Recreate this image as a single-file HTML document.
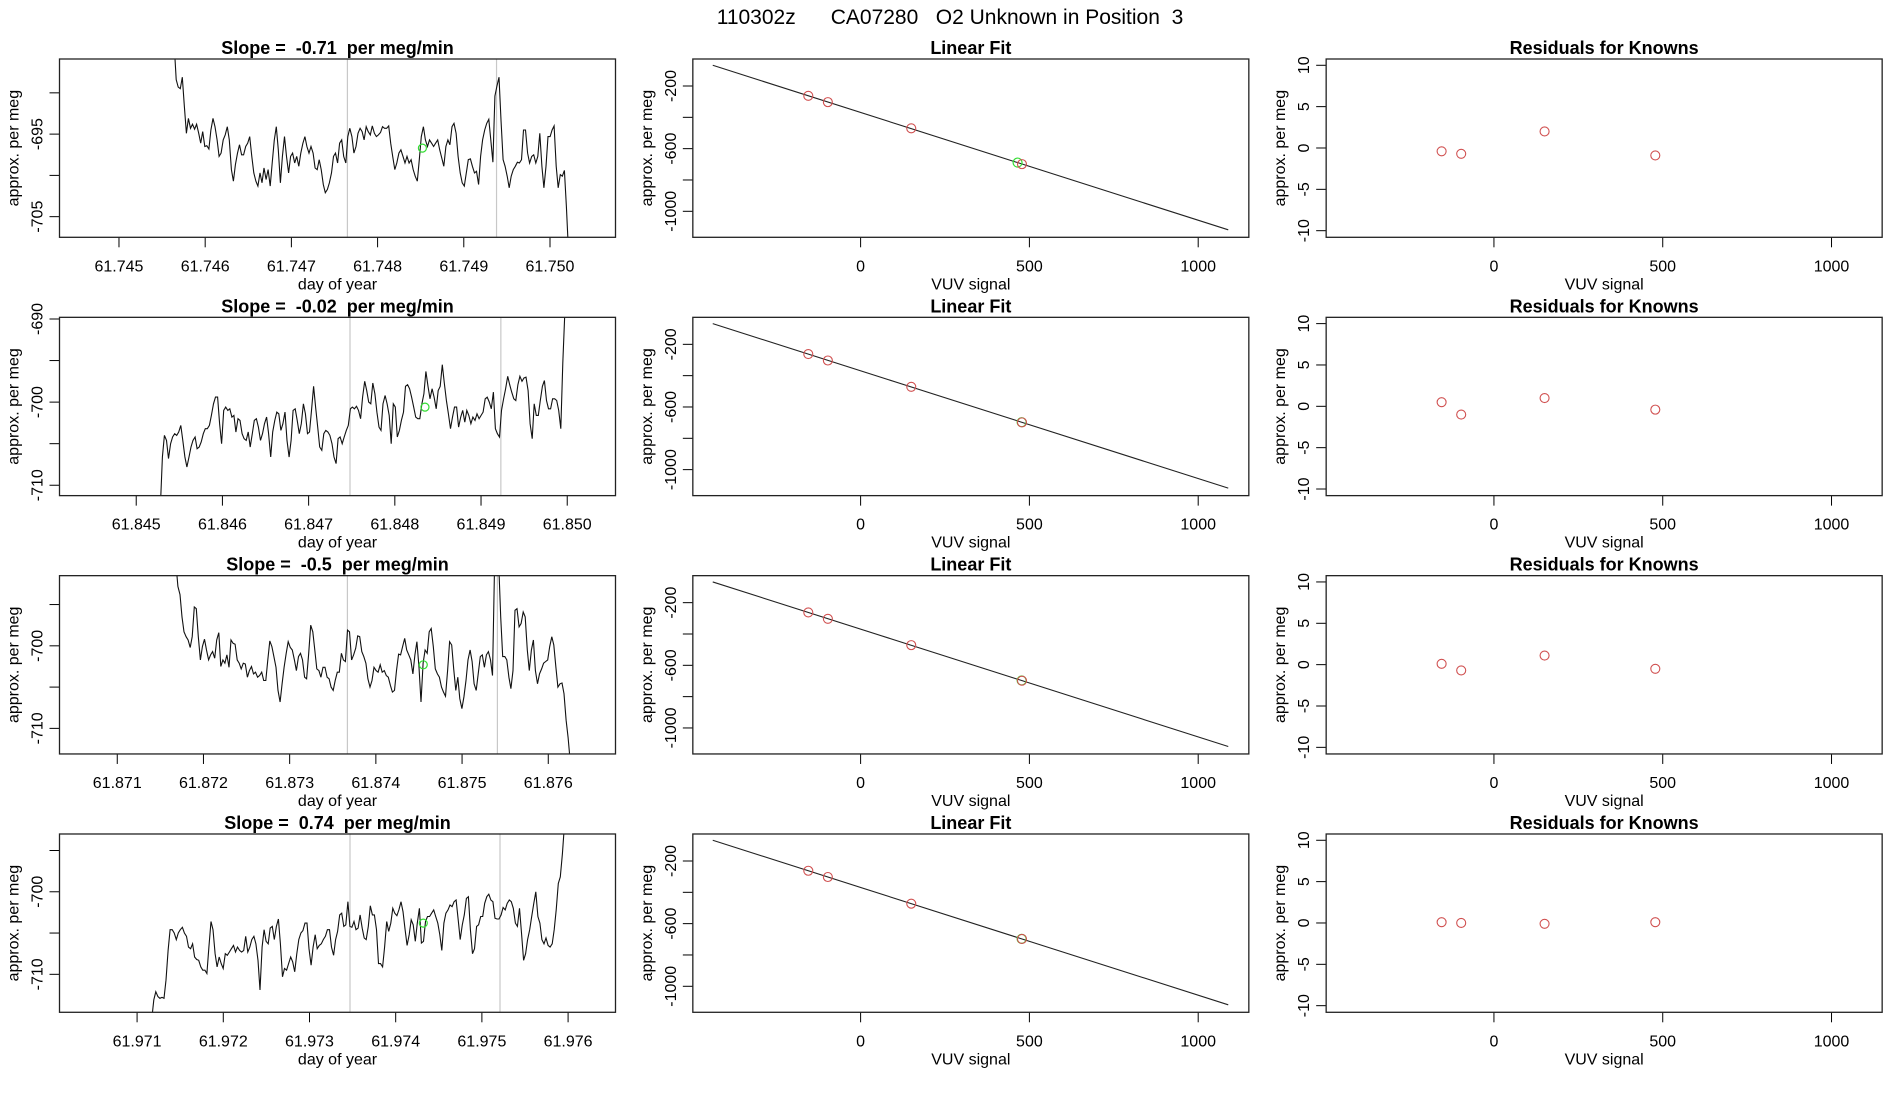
<!DOCTYPE html>
<html><head><meta charset="utf-8"><style>
html,body{margin:0;padding:0;background:#fff;}
svg{display:block;font-family:"Liberation Sans",Arial,sans-serif;}
svg text{white-space:pre;}
</style></head><body>
<svg id="chart" width="1900" height="1100" viewBox="0 0 1900 1100" xmlns="http://www.w3.org/2000/svg">
<rect width="1900" height="1100" fill="#fff"/>
<text x="950" y="24" font-size="21" text-anchor="middle" style="white-space:pre">110302z      CA07280   O2 Unknown in Position  3</text>
</svg>
<script>
const slopeTitles = ["Slope =  -0.71  per meg/min","Slope =  -0.02  per meg/min","Slope =  -0.5  per meg/min","Slope =  0.74  per meg/min"];
const tsStart = [61.74564, 61.84528, 61.87168, 61.97117];
const tsStep = 0.0000237;
const tsX0 = [61.74431, 61.84411, 61.87033, 61.97010];
const tsX1 = [61.75076, 61.85056, 61.87678, 61.97655];
const tsY0 = [-707.5, -711.25, -713.1, -714.6];
const tsY1 = [-685.9, -689.8, -691.5, -693.0];
const tsXTicks = [
 [61.745,61.746,61.747,61.748,61.749,61.750],
 [61.845,61.846,61.847,61.848,61.849,61.850],
 [61.871,61.872,61.873,61.874,61.875,61.876],
 [61.971,61.972,61.973,61.974,61.975,61.976]];
const tsYTicks = [[-690,-695,-700,-705],[-690,-695,-700,-705,-710],[-695,-700,-705,-710],[-695,-700,-705,-710]];
const tsYLabels = [["","-695","","-705"],["-690","","-700","","-710"],["","-700","","-710"],["","-700","","-710"]];
const grayLines = [[61.74765,61.74938],[61.84748,61.84923],[61.87367,61.87541],[61.97347,61.97521]];
const greenT = [61.74852, 61.84835, 61.87455, 61.97432];
const greenV = [-696.7, -700.6, -702.3, -703.8];
const series1 = [-684,-688.4,-689.3,-689.5,-688.1,-691.7,-694.9,-693.1,-694.3,-693.8,-694.4,-693.8,-694.9,-696.1,-694.7,-696.5,-696.4,-696.8,-694.5,-693.1,-694.1,-695.7,-697.7,-697.3,-695.7,-695.1,-694.1,-695.7,-699.3,-700.7,-698.7,-697.3,-696.3,-697.5,-697.5,-696.5,-696.1,-695.3,-697.7,-699.7,-700.7,-701.3,-699.7,-700.9,-699.1,-700.5,-699.3,-701.3,-698.5,-695.7,-694.1,-696.9,-700.9,-697.7,-695.3,-697.7,-699.7,-697.7,-697.3,-698.5,-697.7,-698.9,-697.3,-696.1,-695.3,-696.5,-697.3,-696.5,-697.3,-699.1,-699.3,-698.1,-699.3,-701.1,-702.1,-701.7,-700.9,-699.7,-697.7,-697.3,-698.5,-696.1,-695.7,-697.7,-698.5,-695.3,-694.3,-695.3,-697.3,-696.5,-694.9,-694.3,-694.7,-695.7,-694.1,-694.7,-695.1,-694.0,-694.9,-695.3,-695.1,-694.8,-694.1,-694.3,-694.3,-694.0,-696.1,-697.7,-699.3,-698.5,-697.3,-696.9,-697.7,-698.5,-697.7,-698.5,-698.1,-699.3,-700.1,-700.7,-698.1,-695.3,-694.1,-695.7,-696.5,-695.7,-696.1,-696.5,-696.1,-695.7,-696.9,-697.9,-698.9,-696.5,-695.7,-696.3,-694.1,-693.7,-694.9,-697.7,-699.7,-700.9,-701.3,-699.7,-698.1,-698.0,-698.9,-699.7,-699.5,-701.1,-697.7,-695.7,-694.5,-693.7,-693.2,-695.7,-698.4,-690.4,-689.2,-688.1,-693.3,-698.1,-698.9,-700.1,-701.5,-700.1,-699.3,-698.9,-698.4,-698.5,-698.1,-694.5,-694.5,-697.3,-698.5,-697.7,-697.5,-698.5,-697.7,-694.9,-698.9,-701.5,-698.9,-695.3,-695.3,-694.5,-694.0,-698.9,-701.5,-699.9,-700.1,-699.4,-703.8,-709];
const series2 = [-712.5,-706.6,-704.0,-704.6,-706.8,-705.0,-704.2,-703.8,-704.0,-703.6,-702.8,-704.6,-706.6,-707.8,-706.6,-705.4,-704.6,-704.2,-705.6,-705.4,-704.8,-703.8,-703.2,-703.2,-702.8,-701.6,-700.2,-699.4,-699.4,-702.6,-705.0,-701.0,-700.6,-701.0,-700.8,-701.8,-701.6,-703.6,-702.0,-702.2,-703.8,-704.4,-704.6,-703.6,-705.4,-703.8,-702.2,-702.0,-703.0,-704.6,-703.8,-702.6,-701.8,-703.8,-706.6,-703.6,-702.2,-701.2,-701.4,-703.4,-702.6,-701.2,-704.6,-706.6,-704.6,-701.0,-700.8,-702.2,-703.8,-702.6,-700.2,-701.4,-703.8,-703.6,-701.0,-698.1,-700.6,-703.0,-705.4,-705.8,-703.8,-703.4,-703.6,-704.0,-705.0,-706.6,-707.4,-704.4,-704.2,-705.0,-704.2,-703.4,-702.8,-700.8,-700.6,-700.8,-700.5,-701.0,-702.0,-699.4,-697.5,-698.6,-700.0,-700.2,-697.7,-699.0,-701.2,-703.0,-703.4,-700.2,-699.2,-700.2,-701.6,-705.0,-700.2,-700.6,-704.2,-703.4,-702.2,-701.2,-698.1,-697.9,-698.4,-699.4,-700.6,-701.8,-702.0,-702.0,-700.2,-699.0,-696.3,-698.1,-699.6,-698.4,-699.4,-700.8,-698.6,-698.1,-695.5,-697.7,-699.8,-701.4,-703.2,-701.8,-700.6,-700.6,-703.0,-701.8,-701.0,-702.4,-701.0,-701.6,-702.6,-701.8,-702.2,-701.4,-702.0,-701.6,-701.2,-699.6,-699.4,-700.0,-700.8,-698.8,-703.2,-703.8,-704.2,-701.0,-699.6,-698.4,-696.9,-697.9,-698.8,-699.6,-699.8,-697.9,-696.9,-697.5,-697.1,-697.0,-698.6,-702.6,-704.4,-700.2,-701.6,-701.6,-699.8,-698.1,-697.4,-699.8,-700.8,-700.8,-699.6,-699.6,-699.8,-701.0,-703.2,-695.3,-689];
const series3 = [-690,-692.8,-693.8,-696.5,-698.3,-698.9,-699.3,-700.2,-698.9,-695.3,-695.5,-698.9,-701.7,-700.1,-699.2,-700.5,-701.7,-701.1,-700.7,-701.5,-699.3,-698.4,-702.5,-701.7,-702.1,-701.1,-702.6,-699.3,-699.7,-699.8,-701.7,-702.1,-702.8,-702.1,-702.2,-703.8,-703.0,-702.5,-703.4,-703.2,-703.8,-703.6,-703.2,-704.2,-704.2,-701.7,-699.4,-700.1,-701.3,-702.6,-705.4,-706.8,-704.6,-702.6,-700.9,-699.5,-700.2,-700.5,-701.7,-703.0,-701.3,-700.9,-701.7,-703.8,-704.0,-700.9,-697.5,-698.3,-700.5,-702.8,-703.0,-703.8,-702.6,-702.6,-703.8,-704.0,-705.0,-705.4,-704.2,-703.2,-703.2,-700.9,-701.7,-701.9,-698.1,-698.3,-701.7,-701.1,-700.3,-698.8,-698.9,-700.7,-701.3,-702.1,-704.0,-705.0,-704.2,-702.6,-703.0,-703.2,-702.3,-703.2,-703.0,-703.6,-703.8,-704.8,-705.6,-705.4,-703.0,-701.0,-701.1,-700.1,-699.1,-700.5,-701.1,-701.7,-703.4,-701.1,-699.5,-702.6,-706.8,-702.1,-700.5,-700.9,-698.3,-697.9,-700.1,-702.8,-703.4,-703.8,-705.0,-705.6,-706.1,-703.0,-699.5,-699.9,-702.8,-705.4,-703.8,-706.4,-707.6,-706.2,-704.2,-701.7,-700.5,-701.9,-704.6,-705.4,-703.4,-701.3,-701.1,-702.6,-701.1,-700.7,-701.7,-703.6,-690,-690,-690,-696.5,-701.3,-701.3,-701.7,-703.8,-705.2,-703.0,-695.7,-695.5,-697.7,-697.3,-695.9,-696.5,-700.5,-703.0,-700.5,-699.3,-703.0,-704.6,-703.4,-702.8,-702.1,-701.9,-701.7,-700.1,-698.9,-699.9,-702.6,-705.0,-704.6,-704.5,-705.8,-709.0,-711.1,-714];
const series4 = [-715.5,-713.1,-712.1,-712.7,-712.9,-712.8,-712.9,-710.7,-707.1,-704.6,-704.6,-705.0,-705.8,-705.0,-704.6,-704.3,-705.0,-705.4,-706.7,-706.9,-706.3,-707.9,-708.2,-708.3,-709.1,-709.5,-709.5,-709.9,-706.7,-703.6,-704.6,-707.5,-709.1,-707.9,-708.7,-709.3,-707.5,-707.7,-707.3,-706.9,-706.5,-707.3,-706.7,-707.1,-707.3,-707.1,-705.4,-707.3,-706.7,-705.8,-705.4,-706.3,-708.3,-711.9,-706.7,-704.6,-706.0,-706.3,-704.4,-704.2,-705.8,-704.2,-703.3,-706.3,-710.3,-709.3,-709.5,-708.7,-707.9,-708.5,-709.7,-707.5,-705.8,-705.0,-704.7,-703.8,-703.8,-706.9,-708.9,-706.7,-705.2,-706.9,-706.5,-706.3,-705.8,-705.4,-704.6,-704.6,-706.7,-707.7,-705.8,-704.8,-702.8,-702.6,-704.2,-704.0,-701.2,-704.2,-704.3,-703.6,-704.6,-704.4,-702.8,-704.4,-705.6,-705.8,-704.2,-701.7,-702.8,-702.8,-704.6,-708.7,-708.7,-709.1,-706.7,-703.6,-704.8,-703.8,-702.0,-702.6,-702.9,-702.2,-701.2,-702.4,-704.6,-706.5,-705.2,-703.4,-704.0,-706.0,-703.8,-702.0,-706.2,-706.0,-703.6,-703.0,-703.0,-702.6,-702.2,-703.0,-703.8,-705.2,-707.1,-703.8,-702.6,-702.2,-701.6,-701.8,-701.2,-701.0,-703.4,-705.8,-704.0,-702.8,-700.8,-700.6,-704.6,-707.5,-706.9,-704.2,-704.0,-703.0,-703.0,-701.4,-700.6,-700.3,-701.0,-701.2,-703.2,-703.3,-703.3,-702.8,-701.9,-702.2,-701.4,-701.0,-701.2,-702.0,-703.8,-704.2,-702.0,-705.0,-708.3,-707.5,-705.8,-704.6,-703.0,-701.4,-700.0,-703.0,-703.8,-705.8,-706.3,-705.6,-706.5,-706.7,-706.3,-704.6,-702.2,-699.0,-698.2,-695.4,-692];
const allSeries = [series1, series2, series3, series4];
const fitSlope = -0.688;
const fitIntercept = -369;
const fitRange = [-438, 1089];
const knownX = [-155, -97, 150, 478];
const residuals = [[-0.4,-0.7,2.0,-0.9],[0.5,-1.0,1.0,-0.4],[0.1,-0.7,1.1,-0.5],[0.1,0.0,-0.1,0.1]];
const unknownX = [465, 477, 477, 477];
const vuvXTicks = [0, 500, 1000];
const fitYTicks = [-200,-400,-600,-800,-1000];
const fitYLabels = ["-200","","-600","","-1000"];
const resYTicks = [10,5,0,-5,-10];
const sigXlim = [-497, 1150];
const fitYlim = [-1166, -27.6];
const resYlim = [-10.8, 10.76];

const NS = "http://www.w3.org/2000/svg";
const svg = document.getElementById('chart');
function mk(tag, attrs, parent){const e=document.createElementNS(NS,tag);for(const k in attrs)e.setAttribute(k,attrs[k]);(parent||svg).appendChild(e);return e;}
const ROW0 = 59, ROWP = 258.33, BOXH = 178.3, COL0 = 59.5, COLP = 633.33, BOXW = 556;

function panel(r, c, xlim, ylim, title, xt, xl, yt, yl, xlabel, nm){
  const g = mk('g', {});
  
  
  const bx = COL0 + c*COLP, by = ROW0 + r*ROWP;
  const sx = v => bx + (v - xlim[0])/(xlim[1]-xlim[0])*BOXW;
  const sy = v => by + BOXH - (v - ylim[0])/(ylim[1]-ylim[0])*BOXH;
  const cid = 'clip'+r+'_'+c;
  const cp = mk('clipPath', {id:cid}, g);
  mk('rect', {x:bx, y:by, width:BOXW, height:BOXH}, cp);
  const t = mk('text', {x:bx+BOXW/2, y:by-5, 'font-size':18, 'font-weight':'bold', 'text-anchor':'middle', style:'white-space:pre'}, g);
  
  
  t.textContent = title;
  xt.forEach((v,i)=>{
    const x = sx(v);
    mk('line', {x1:x, x2:x, y1:by+BOXH, y2:by+BOXH+10, stroke:'#000', 'stroke-width':1}, g);
    const tl = mk('text', {x:x, y:by+BOXH+34, 'font-size':16, 'text-anchor':'middle'}, g);
    
    
    tl.textContent = xl[i];
  });
  yt.forEach((v,i)=>{
    const y = sy(v);
    mk('line', {x1:bx-10, x2:bx, y1:y, y2:y, stroke:'#000', 'stroke-width':1}, g);
    if (yl[i]!==''){
      const tl = mk('text', {x:0, y:0, 'font-size':16, 'text-anchor':'middle', transform:'translate('+(bx-17)+','+y+') rotate(-90)'}, g);
      
      
      tl.textContent = yl[i];
    }
  });
  const yt2 = mk('text', {x:0, y:0, 'font-size':16, 'text-anchor':'middle', transform:'translate('+(bx-41)+','+(by+BOXH/2)+') rotate(-90)'}, g);
  
  
  yt2.textContent = 'approx. per meg';
  const xt2 = mk('text', {x:bx+BOXW/2, y:by+BOXH+52, 'font-size':16, 'text-anchor':'middle'}, g);
  
  
  xt2.textContent = xlabel;
  const plot = mk('g', {'clip-path':'url(#'+cid+')'}, g);
  const box = mk('rect', {x:bx, y:by, width:BOXW, height:BOXH, fill:'none', stroke:'#222', 'stroke-width':1.3}, g);
  
  
  return {sx, sy, plot, g};
}

for (let r=0; r<4; r++){
  const xl = tsXTicks[r].map(v=>v.toFixed(3));
  const p = panel(r, 0, [tsX0[r], tsX1[r]], [tsY0[r], tsY1[r]], slopeTitles[r], tsXTicks[r], xl, tsYTicks[r], tsYLabels[r], 'day of year', 'timeseries-panel-'+(r+1));
  grayLines[r].forEach(v=>{
    const l = mk('line', {x1:p.sx(v), x2:p.sx(v), y1:ROW0+r*ROWP, y2:ROW0+r*ROWP+BOXH, stroke:'#c8c8c8', 'stroke-width':1.2}, p.plot);
    
    
  });
  const pts = allSeries[r].map((v,i)=>p.sx(tsStart[r]+i*tsStep).toFixed(1)+','+p.sy(v).toFixed(1)).join(' ');
  const pl = mk('polyline', {points:pts, fill:'none', stroke:'#111', 'stroke-width':1.1}, p.plot);
  
  
  const gc = mk('circle', {cx:p.sx(greenT[r]), cy:p.sy(greenV[r]), r:4, fill:'none', stroke:'#3d3', 'stroke-width':1.2}, p.plot);
  
  

  const q = panel(r, 1, sigXlim, fitYlim, 'Linear Fit', vuvXTicks, vuvXTicks.map(String), fitYTicks, fitYLabels, 'VUV signal', 'linear-fit-panel-'+(r+1));
  const fl = mk('line', {x1:q.sx(fitRange[0]), y1:q.sy(fitIntercept+fitSlope*fitRange[0]), x2:q.sx(fitRange[1]), y2:q.sy(fitIntercept+fitSlope*fitRange[1]), stroke:'#222', 'stroke-width':1.1}, q.plot);
  
  
  const uc = mk('circle', {cx:q.sx(unknownX[r]), cy:q.sy(fitIntercept+fitSlope*unknownX[r]), r:4.5, fill:'none', stroke:'#3d3', 'stroke-width':1.2}, q.plot);
  
  
  knownX.forEach((x,i)=>{
    const c = mk('circle', {cx:q.sx(x), cy:q.sy(fitIntercept+fitSlope*x+residuals[r][i]), r:4.5, fill:'none', stroke:'#d05050', 'stroke-width':1.1}, q.plot);
    
    
  });

  const s = panel(r, 2, sigXlim, resYlim, 'Residuals for Knowns', vuvXTicks, vuvXTicks.map(String), resYTicks, resYTicks.map(String), 'VUV signal', 'residuals-panel-'+(r+1));
  knownX.forEach((x,i)=>{
    const c = mk('circle', {cx:s.sx(x), cy:s.sy(residuals[r][i]), r:4.5, fill:'none', stroke:'#d05050', 'stroke-width':1.1}, s.plot);
    
    
  });
}
</script>
</body></html>
